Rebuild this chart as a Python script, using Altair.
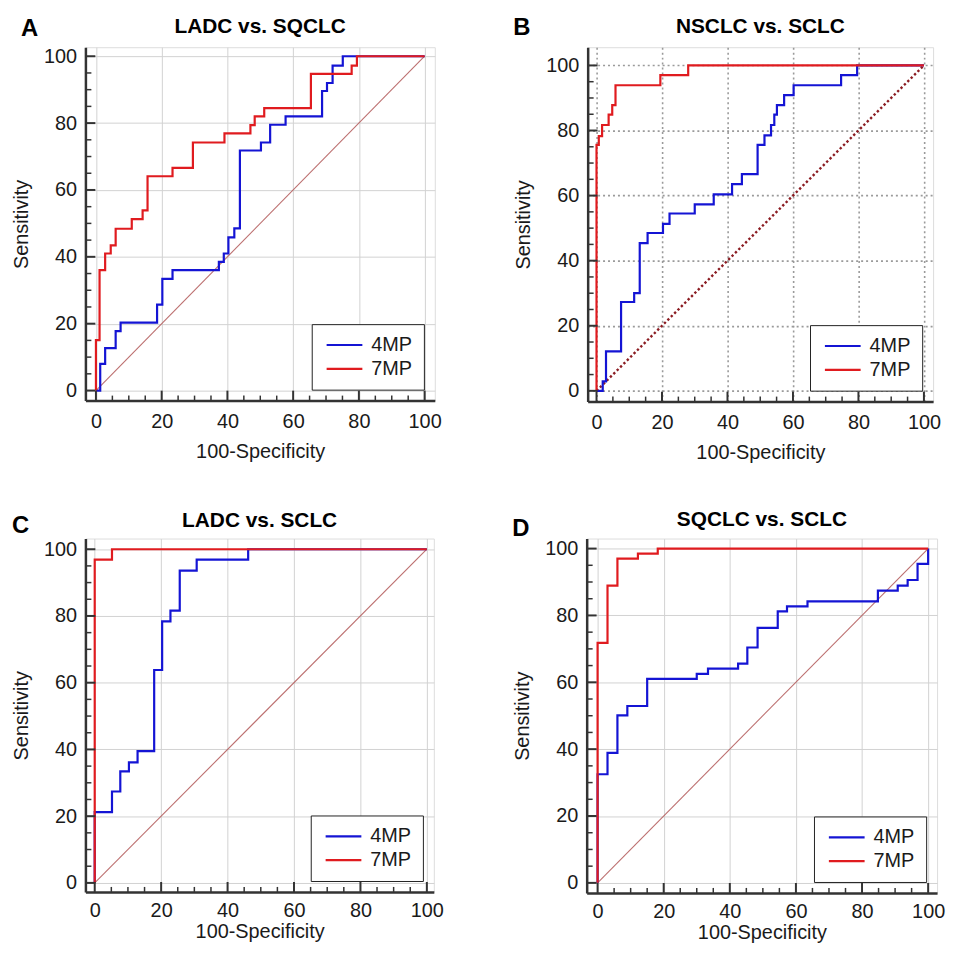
import altair as alt
import pandas as pd

# ---------------- data ----------------
MODELS = ["4MP", "7MP"]
LETTERS = ["A", "B", "C", "D"]
TITLES = ["LADC vs. SQCLC", "NSCLC vs. SCLC", "LADC vs. SCLC", "SQCLC vs. SCLC"]
AXIS_VALUES = [0, 20, 40, 60, 80, 100]
MINOR_VALUES = [5, 10, 15, 25, 30, 35, 45, 50, 55, 65, 70, 75, 85, 90, 95]
DIAG_X = [0, 100]
DIAG_Y = [0, 100]

# Panel A: LADC vs. SQCLC
A_4MP_X = [0, 1.3, 2.8, 6.0, 7.5, 18.6, 20.2, 23.3, 37.4, 38.9, 40.3, 42.1, 43.8, 50.2, 53.0, 57.7, 68.8, 70.3, 72.0, 75.1, 100]
A_4MP_Y = [0, 8.0, 12.7, 17.8, 20.3, 25.7, 33.4, 36.0, 38.5, 41.0, 45.8, 48.5, 71.8, 74.2, 79.5, 82.0, 89.6, 92.0, 97.2, 100, 100]
A_7MP_X = [0, 0, 1.1, 2.8, 4.5, 6.0, 10.9, 14.2, 15.7, 23.3, 29.5, 39.1, 47.0, 48.3, 51.2, 65.4, 77.8, 79.4, 100]
A_7MP_Y = [0, 15.1, 36.0, 41.0, 43.4, 48.4, 51.3, 53.9, 64.1, 66.6, 74.2, 76.9, 79.4, 82.0, 84.5, 94.7, 97.2, 100, 100]

# Panel B: NSCLC vs. SCLC
B_4MP_X = [0, 1.9, 2.9, 7.5, 11.5, 13.2, 15.6, 20.3, 22.3, 30.0, 35.8, 41.4, 44.4, 49.2, 51.3, 53.3, 54.3, 55.1, 57.3, 60.2, 74.7, 79.6, 100]
B_4MP_Y = [0, 2.9, 12.1, 27.3, 30.0, 45.4, 48.5, 51.3, 54.5, 57.3, 60.4, 63.5, 66.6, 75.6, 78.5, 81.7, 84.9, 87.8, 90.9, 93.9, 97.0, 100, 100]
B_7MP_X = [0, 0, 0.7, 1.7, 3.7, 4.8, 5.8, 19.5, 28.0, 100]
B_7MP_Y = [0, 75.6, 78.3, 81.7, 84.9, 87.8, 93.9, 97.0, 100, 100]

# Panel C: LADC vs. SCLC
C_4MP_X = [0, 0, 5.2, 7.7, 10.3, 12.9, 17.9, 20.3, 22.8, 25.6, 30.7, 46.2, 100]
C_4MP_Y = [0, 21.2, 27.4, 33.4, 36.1, 39.5, 63.8, 78.4, 81.6, 93.6, 96.9, 100, 100]
C_7MP_X = [0, 0, 5.2, 100]
C_7MP_Y = [0, 96.9, 100, 100]

# Panel D: SQCLC vs. SCLC
D_4MP_X = [0, 0, 3.0, 6.0, 9.0, 15.0, 30.0, 33.4, 42.5, 45.3, 48.4, 54.5, 57.3, 63.5, 84.8, 90.8, 93.8, 96.8, 100]
D_4MP_Y = [0, 32.5, 38.9, 50.1, 52.9, 61.0, 62.5, 64.1, 65.6, 70.4, 76.3, 81.2, 82.7, 84.2, 87.4, 88.9, 90.6, 95.4, 100]
D_7MP_X = [0, 0, 3.0, 6.0, 12.2, 18.2, 100]
D_7MP_Y = [0, 71.8, 88.9, 97.0, 98.5, 100, 100]

CURVES = {
    "A": (A_4MP_X, A_4MP_Y, A_7MP_X, A_7MP_Y),
    "B": (B_4MP_X, B_4MP_Y, B_7MP_X, B_7MP_Y),
    "C": (C_4MP_X, C_4MP_Y, C_7MP_X, C_7MP_Y),
    "D": (D_4MP_X, D_4MP_Y, D_7MP_X, D_7MP_Y),
}

# ---------------- style ----------------
FONT = "Liberation Sans"
BLUE = "#1414d4"
RED = "#e01b1f"
AXIS_COLOR = "#333333"
TEXT_COLOR = "#1a1a1a"

STYLE = {
    "A": dict(xdom=[-3.2, 103.1], ydom=[-3.0, 102.7], w=352, h=356, ldx=-65, ldy=-11, tdy=-14, xlp=11, xtp=10, dotted=False),
    "B": dict(xdom=[-2.7, 102.8], ydom=[-3.3, 105.6], w=348, h=357, ldx=-75, ldy=-12, tdy=-14, xlp=11, xtp=10, dotted=True),
    "C": dict(xdom=[-2.8, 102.1], ydom=[-2.7, 103.2], w=351, h=356, ldx=-74, ldy=-6, tdy=-12, xlp=9, xtp=1, dotted=False),
    "D": dict(xdom=[-3.3, 102.7], ydom=[-3.0, 103.0], w=353, h=357, ldx=-75, ldy=-3, tdy=-13, xlp=9, xtp=1, dotted=False),
}


def make_panel(key, title):
    st = STYLE[key]
    x4, y4, x7, y7 = CURVES[key]
    roc = pd.concat([
        pd.DataFrame({"x": x4, "y": y4, "model": MODELS[0], "i": range(len(x4))}),
        pd.DataFrame({"x": x7, "y": y7, "model": MODELS[1], "i": range(len(x7))}),
    ])
    diag = pd.DataFrame({"x": DIAG_X, "y": DIAG_Y})

    xs = alt.Scale(domain=st["xdom"], nice=False, zero=False)
    ys = alt.Scale(domain=st["ydom"], nice=False, zero=False)

    if st["dotted"]:
        grid = dict(gridColor="#9a9a9a", gridWidth=1.6, gridDash=[2, 3])
    else:
        grid = dict(gridColor="#d2d2d2", gridWidth=1)

    common = dict(values=AXIS_VALUES, grid=True, ticks=False, domain=True,
                  domainColor=AXIS_COLOR, domainWidth=2.5,
                  labelFontSize=20, labelColor=TEXT_COLOR, labelFont=FONT,
                  titleFontSize=20, titleFontWeight="normal", titleColor=TEXT_COLOR,
                  titleFont=FONT, **grid)
    x_axis = alt.Axis(title="100-Specificity", labelPadding=st["xlp"], titlePadding=st["xtp"], **common)
    y_axis = alt.Axis(title="Sensitivity", labelPadding=9, titlePadding=12, **common)

    X = lambda f: alt.X(f, scale=xs, axis=x_axis)
    Y = lambda f: alt.Y(f, scale=ys, axis=y_axis)

    if st["dotted"]:
        diag_mark = alt.Chart(diag).mark_line(color="#8b1c22", strokeWidth=2.4, strokeDash=[2.4, 2.4])
    else:
        diag_mark = alt.Chart(diag).mark_line(color="#b55f5f", strokeWidth=1.1, strokeOpacity=0.9)
    diag_layer = diag_mark.encode(x=X("x:Q"), y=Y("y:Q"))

    curves = alt.Chart(roc).mark_line(interpolate="step-after", strokeWidth=2.2).encode(
        x=X("x:Q"),
        y=Y("y:Q"),
        color=alt.Color("model:N", scale=alt.Scale(domain=MODELS, range=[BLUE, RED]),
                        legend=alt.Legend(title=None, orient="bottom-right", offset=11,
                                          symbolType="M-3,0H3", symbolSize=144,
                                          symbolStrokeWidth=2.2, symbolOffset=12,
                                          labelOffset=17, labelFontSize=20,
                                          labelFont=FONT, labelColor=TEXT_COLOR,
                                          padding=11, rowPadding=4,
                                          strokeColor="#222222", fillColor="white")),
        order=alt.Order("i:Q"),
    )

    major = pd.DataFrame({"x": AXIS_VALUES, "y": AXIS_VALUES})
    minor = pd.DataFrame({"x": MINOR_VALUES, "y": MINOR_VALUES})
    ytick_major = alt.Chart(major).mark_rule(color=AXIS_COLOR, strokeWidth=2).encode(
        y=Y("y:Q"), x=alt.value(0), x2=alt.value(10))
    ytick_minor = alt.Chart(minor).mark_rule(color=AXIS_COLOR, strokeWidth=1.5).encode(
        y=Y("y:Q"), x=alt.value(0), x2=alt.value(6))
    xtick_major = alt.Chart(major).mark_rule(color=AXIS_COLOR, strokeWidth=2).encode(
        x=X("x:Q"), y=alt.value(st["h"]), y2=alt.value(st["h"] - 10))
    xtick_minor = alt.Chart(minor).mark_rule(color=AXIS_COLOR, strokeWidth=1.5).encode(
        x=X("x:Q"), y=alt.value(st["h"]), y2=alt.value(st["h"] - 5))

    labels = pd.DataFrame({"letter": [key], "title": [title]})
    letter = alt.Chart(labels).mark_text(
        font=FONT, fontSize=24, fontWeight="bold", color="black", align="left", baseline="alphabetic"
    ).encode(text="letter:N", x=alt.value(st["ldx"]), y=alt.value(st["ldy"]))
    heading = alt.Chart(labels).mark_text(
        font=FONT, fontSize=21, fontWeight="bold", color="black", align="center", baseline="alphabetic"
    ).encode(text="title:N", x=alt.value(st["w"] / 2), y=alt.value(st["tdy"]))

    return alt.layer(diag_layer, curves, ytick_major, ytick_minor, xtick_major, xtick_minor,
                     letter, heading).properties(width=st["w"], height=st["h"])


pA = make_panel("A", TITLES[0])
pB = make_panel("B", TITLES[1])
pC = make_panel("C", TITLES[2])
pD = make_panel("D", TITLES[3])

chart = alt.vconcat(
    alt.hconcat(pA, pB, spacing=71).resolve_scale(color="independent").resolve_legend(color="independent"),
    alt.hconcat(pC, pD, spacing=67).resolve_scale(color="independent").resolve_legend(color="independent"),
    spacing=45,
).resolve_scale(color="independent").resolve_legend(color="independent").configure_view(
    stroke=None
).configure_legend(strokeWidth=2).configure(padding={"left": 3, "top": 4, "right": 0, "bottom": 0})

chart.save("out.html", embed_options={"renderer": "svg", "actions": False})
